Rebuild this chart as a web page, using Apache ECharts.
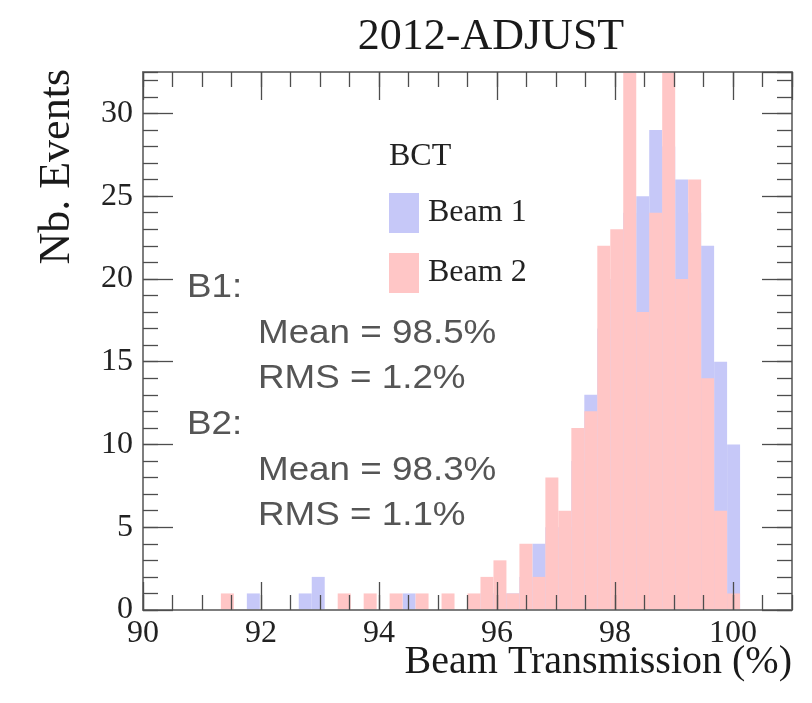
<!DOCTYPE html>
<html>
<head>
<meta charset="utf-8">
<script src="https://cdn.jsdelivr.net/npm/echarts@6/dist/echarts.min.js"></script>
<style>
  html, body { margin: 0; padding: 0; background: #ffffff; }
  #chart { width: 812px; height: 703px; }
</style>
</head>
<body>
<div id="chart"></div>
<script>
// Histogram binning: 50 bins of 0.22 % from 90 % to 101 %
const binStart = 90;
const binWidth = 0.22;
const binCount = 50;

// Events per bin, BCT transmission for Beam 1
const beam1Counts = [
  0, 0, 0, 0, 0, 0, 0, 0, 1, 0,
  0, 0, 1, 2, 0, 0, 0, 0, 0, 0,
  1, 0, 0, 0, 0, 0, 1, 1, 1, 2,
  4, 5, 5, 9, 13, 17, 20, 24, 25, 29,
  28, 26, 24, 22, 15, 10, 0, 0, 0, 0
];

// Events per bin, BCT transmission for Beam 2
const beam2Counts = [
  0, 0, 0, 0, 0, 0, 1, 0, 0, 0,
  0, 0, 0, 0, 0, 1, 0, 1, 0, 1,
  0, 1, 0, 1, 0, 1, 2, 3, 1, 4,
  2, 8, 6, 11, 12, 22, 23, 36, 18, 24,
  35, 20, 26, 14, 6, 1, 0, 0, 0, 0
];

const xRange = [90, 101];
const yRange = [0, 32.5];
const statsLines = [
  { text: 'B1:', indent: false },
  { text: 'Mean = 98.5%', indent: true },
  { text: 'RMS = 1.2%', indent: true },
  { text: 'B2:', indent: false },
  { text: 'Mean = 98.3%', indent: true },
  { text: 'RMS = 1.1%', indent: true }
];

const binLabels = [];
for (let k = 0; k < binCount; k++) {
  binLabels.push((binStart + binWidth * (k + 0.5)).toFixed(2));
}

const BLUE = '#c6c8f8';
const PINK = '#ffc6c6';
const FRAME = '#767676';
const TICK = '#4d4d4d';
const SERIF = '"Liberation Serif", "DejaVu Serif", serif';
const SANS = '"Liberation Sans", Arial, sans-serif';

function xValueAxis(position, interval, tickLen, withLabels) {
  return {
    type: 'value', position: position, min: xRange[0], max: xRange[1], interval: interval,
    z: 5,
    axisLine: { show: true, onZero: false, lineStyle: { color: FRAME, width: 1.5 } },
    axisTick: { show: true, inside: true, length: tickLen, lineStyle: { color: TICK, width: 1.3 } },
    axisLabel: {
      show: withLabels, margin: 8, color: '#222', fontFamily: SERIF, fontSize: 32,
      showMaxLabel: false,
      formatter: function (v) { return v > 100 ? '' : String(v); }
    },
    splitLine: { show: false }
  };
}

function yValueAxis(position, interval, tickLen, withLabels) {
  return {
    type: 'value', position: position, min: yRange[0], max: yRange[1], interval: interval,
    z: 5,
    axisLine: { show: true, onZero: false, lineStyle: { color: FRAME, width: 1.5 } },
    axisTick: { show: true, inside: true, length: tickLen, lineStyle: { color: TICK, width: 1.3 } },
    axisLabel: {
      show: withLabels, margin: 10, color: '#222', fontFamily: SERIF, fontSize: 32,
      showMaxLabel: false,
      formatter: function (v) { return v > 30 ? '' : String(v); }
    },
    splitLine: { show: false }
  };
}

const statsGraphics = statsLines.map(function (line, i) {
  return {
    type: 'text',
    x: line.indent ? 258 : 187,
    y: 288 + i * 45.6,
    scaleX: 1.15,
    scaleY: 1.05,
    silent: true,
    style: {
      text: line.text, fill: '#555555', font: '32px ' + SANS,
      textAlign: 'left', textVerticalAlign: 'middle'
    }
  };
});

const chart = echarts.init(document.getElementById('chart'), null, { renderer: 'canvas' });

chart.setOption({
  backgroundColor: '#ffffff',
  animation: false,
  grid: { left: 143, right: 20, top: 72, bottom: 93, containLabel: false },
  xAxis: [
    { type: 'category', data: binLabels, boundaryGap: true, show: false },
    xValueAxis('bottom', 2, 28, true),
    xValueAxis('bottom', 0.5, 15, false),
    xValueAxis('top', 2, 28, false),
    xValueAxis('top', 0.5, 15, false)
  ],
  yAxis: [
    yValueAxis('left', 5, 30, true),
    yValueAxis('left', 1, 15, false),
    yValueAxis('right', 5, 30, false),
    yValueAxis('right', 1, 15, false)
  ],
  legend: {
    orient: 'vertical', left: 389, top: 193, padding: 0,
    itemWidth: 30, itemHeight: 40, itemGap: 20, icon: 'rect',
    selectedMode: false,
    textStyle: { fontFamily: SERIF, fontSize: 32, color: '#222', padding: [0, 0, 0, 4] },
    data: ['Beam 1', 'Beam 2']
  },
  series: [
    {
      name: 'Beam 1', type: 'bar', xAxisIndex: 0, yAxisIndex: 0,
      data: beam1Counts, barWidth: '100%', barGap: '-100%', barCategoryGap: 0,
      itemStyle: { color: BLUE }, z: 2, silent: true, clip: true
    },
    {
      name: 'Beam 2', type: 'bar', xAxisIndex: 0, yAxisIndex: 0,
      data: beam2Counts, barWidth: '100%', barGap: '-100%', barCategoryGap: 0,
      itemStyle: { color: PINK }, z: 3, silent: true, clip: true
    }
  ],
  graphic: [
    {
      type: 'text', x: 491, y: 37, silent: true,
      style: { text: '2012-ADJUST', fill: '#1a1a1a', font: '44px ' + SERIF,
               textAlign: 'center', textVerticalAlign: 'middle' }
    },
    {
      type: 'text', x: 389, y: 157, silent: true,
      style: { text: 'BCT', fill: '#222', font: '32px ' + SERIF,
               textAlign: 'left', textVerticalAlign: 'middle' }
    },
    {
      type: 'text', x: 792, y: 662, silent: true,
      style: { text: 'Beam Transmission (%)', fill: '#1a1a1a', font: '40px ' + SERIF,
               textAlign: 'right', textVerticalAlign: 'middle' }
    },
    {
      type: 'text', x: 57, y: 69, rotation: Math.PI / 2, silent: true,
      style: { text: 'Nb. Events', fill: '#1a1a1a', font: '44px ' + SERIF,
               textAlign: 'right', textVerticalAlign: 'middle' }
    }
  ].concat(statsGraphics)
});
</script>
</body>
</html>
